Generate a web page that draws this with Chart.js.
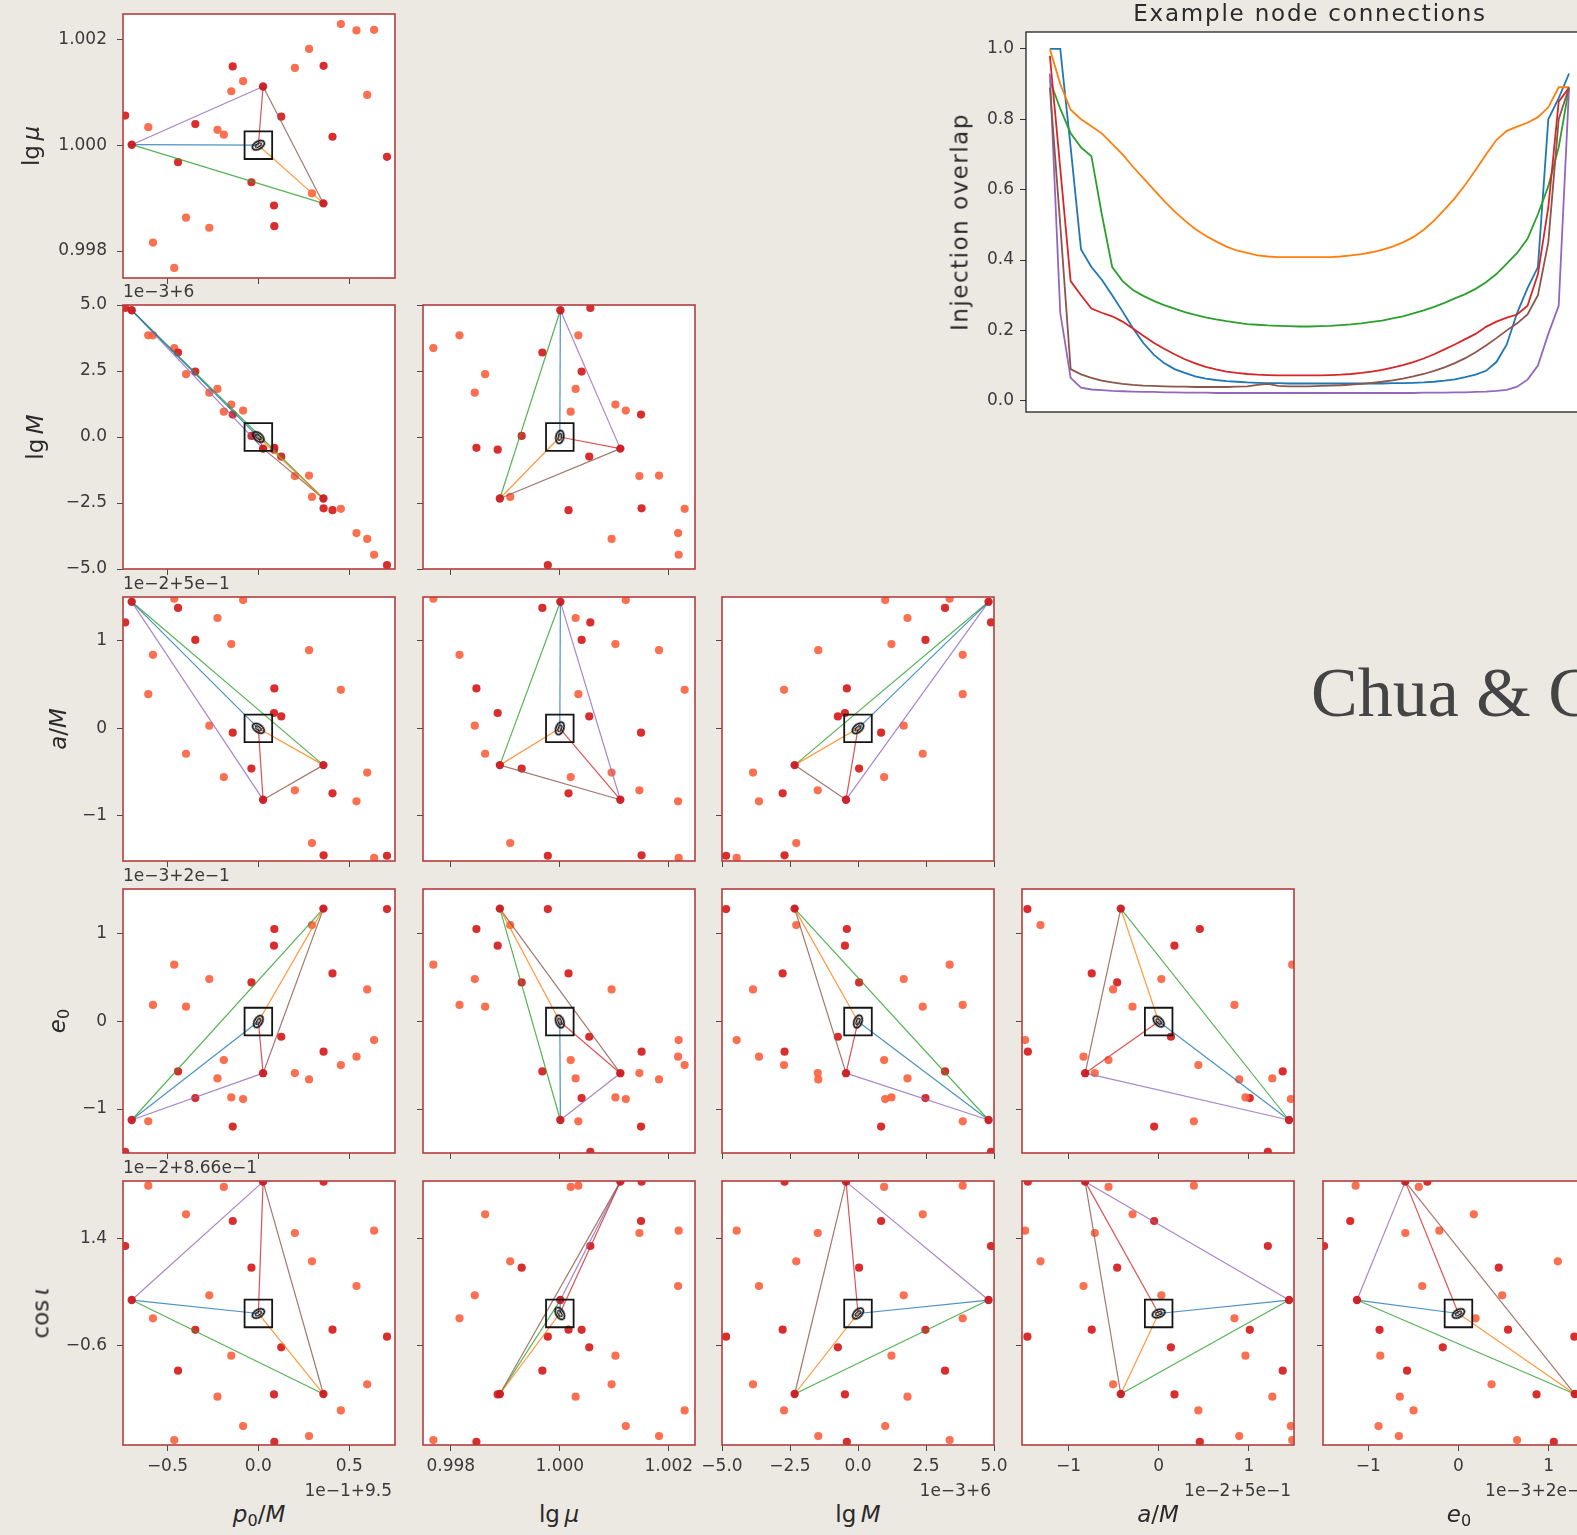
<!DOCTYPE html>
<html>
<head>
<meta charset="utf-8">
<title>Corner plot and example node connections</title>
<script src="https://cdn.jsdelivr.net/npm/chart.js@4.4.1/dist/chart.umd.min.js"></script>
<style>
  html, body { margin: 0; padding: 0; }
  body {
    width: 1577px; height: 1535px; overflow: hidden; position: relative;
    background: #ece9e3;
    font-family: "DejaVu Sans", sans-serif; color: #333;
  }
  canvas { position: absolute; }
  .txt { position: absolute; white-space: nowrap; line-height: 1; }
  .tick { font-size: 17px; color: #3a3a3a; }
  .ax { font-size: 23px; color: #2a2a2a; }
  .ax sub { font-size: 0.7em; font-style: normal; vertical-align: -0.3em; line-height: 0; }
  .big { font-size: 23px; color: #2a2a2a; }
  .slide { font-family: "Liberation Serif", "DejaVu Serif", serif; font-size: 70px; color: #444; }
</style>
</head>
<body>
<script>
// ---- prior samples (27), one value per parameter, in axis (offset) units ----
var sampleP0 = [-0.733, -0.606, -0.580, -0.463, -0.442, -0.398, -0.347, -0.270, -0.225, -0.190, -0.149, -0.141, -0.084, -0.038, 0.086, 0.088, 0.126, 0.201, 0.279, 0.295, 0.359, 0.408, 0.454, 0.540, 0.599, 0.637, 0.708];
var sampleLgMu = [1.00056, 1.00034, 0.99816, 0.99768, 0.99968, 0.99863, 1.00040, 0.99844, 1.00029, 1.00020, 1.00102, 1.00149, 1.00121, 0.99930, 0.99886, 0.99847, 1.00054, 1.00146, 1.00182, 0.99909, 1.00150, 1.00016, 1.00229, 1.00217, 1.00095, 1.00218, 0.99978];
var sampleLgM = [4.89, 3.85, 3.85, 3.37, 3.20, 2.38, 2.48, 1.68, 1.82, 0.96, 1.23, 0.85, 1.00, 0.04, -0.48, -0.41, -0.74, -1.48, -1.46, -2.27, -2.70, -2.77, -2.72, -3.64, -3.86, -4.46, -4.85];
var sampleA = [1.21, 0.39, 0.84, 1.48, 1.375, -0.29, 1.01, 0.03, 1.26, -0.556, 0.962, -0.05, 1.465, -0.46, 0.175, 0.456, 0.136, -0.708, 0.893, -1.31, -1.45, -0.742, 0.44, -0.833, -0.505, -1.48, -1.455];
var sampleE0 = [-1.49, -1.14, 0.19, 0.65, -0.57, 0.17, -0.875, 0.485, -0.65, -0.44, -0.867, -1.20, -0.886, 0.447, 0.866, 1.057, -0.174, -0.589, -0.661, 1.102, -0.345, 0.55, -0.498, -0.402, 0.367, -0.212, 1.285];
var sampleCosI = [1.257, 2.381, -0.091, -2.358, -1.066, 1.847, -0.305, 0.338, -1.55, 2.357, -0.786, 1.723, -2.097, 0.853, -1.507, -2.389, -0.631, 1.499, -2.283, 0.971, 2.456, -0.302, -1.805, 0.512, -1.32, 1.543, -0.432];
var sampleShade = [1, 0, 0, 0, 1, 0, 1, 0, 0, 0, 0, 1, 0, 1, 1, 1, 1, 0, 0, 0, 1, 1, 0, 0, 0, 0, 1];

// ---- template nodes: A, B (centre), C, D ----
var nodeP0 = [-0.697, 0, 0.026, 0.358];
var nodeLgMu = [1.00001, 1.0, 1.00111, 0.99890];
var nodeLgM = [4.80, 0, -0.44, -2.33];
var nodeA = [1.445, 0, -0.815, -0.42];
var nodeE0 = [-1.125, 0, -0.59, 1.29];
var nodeCosI = [0.25, 0, 2.456, -1.50];

// node connections (A-B, B-D, A-D, B-C, A-C, C-D)
var edgeFrom = [0, 1, 0, 1, 0, 2];
var edgeTo = [1, 3, 3, 2, 2, 3];
var edgeColors = ['rgba(31,119,180,.8)', 'rgba(255,127,14,.8)', 'rgba(44,160,44,.8)', 'rgba(214,39,40,.8)', 'rgba(148,103,189,.8)', 'rgba(140,86,75,.8)'];

// ---- axis ticks ----
var p0Ticks = [-0.5, 0, 0.5], p0TickLabels = ['\u22120.5', '0.0', '0.5'];
var lgMuTicks = [0.998, 1.0, 1.002], lgMuTickLabels = ['0.998', '1.000', '1.002'];
var lgMTicks = [-5, -2.5, 0, 2.5, 5], lgMTickLabels = ['\u22125.0', '\u22122.5', '0.0', '2.5', '5.0'];
var aTicks = [-1, 0, 1], aTickLabels = ['\u22121', '0', '1'];
var e0Ticks = [-1, 0, 1], e0TickLabels = ['\u22121', '0', '1'];
var cosITicks = [-0.6, 1.4], cosITickLabels = ['\u22120.6', '1.4'];

// ---- example node connections (overlap along the connection) ----
var connIndex = [0, 1, 2, 3, 4, 5, 6, 7, 8, 9, 10, 11, 12, 13, 14, 15, 16, 17, 18, 19, 20, 21, 22, 23, 24, 25, 26, 27, 28, 29, 30, 31, 32, 33, 34, 35, 36, 37, 38, 39, 40, 41, 42, 43, 44, 45, 46, 47, 48, 49, 50];
var overlapBlue = [1.0, 1.0, 0.72, 0.43, 0.38, 0.344, 0.30, 0.254, 0.206, 0.164, 0.131, 0.107, 0.09, 0.079, 0.069, 0.063, 0.059, 0.056, 0.054, 0.052, 0.051, 0.05, 0.05, 0.049, 0.049, 0.049, 0.049, 0.049, 0.049, 0.049, 0.049, 0.049, 0.049, 0.05, 0.05, 0.051, 0.052, 0.054, 0.057, 0.061, 0.067, 0.074, 0.085, 0.11, 0.16, 0.25, 0.32, 0.38, 0.80, 0.86, 0.93];
var overlapOrange = [1.0, 0.90, 0.827, 0.80, 0.78, 0.76, 0.73, 0.70, 0.665, 0.633, 0.60, 0.568, 0.538, 0.512, 0.488, 0.469, 0.453, 0.438, 0.427, 0.42, 0.413, 0.41, 0.408, 0.408, 0.408, 0.408, 0.408, 0.408, 0.41, 0.413, 0.417, 0.422, 0.429, 0.438, 0.45, 0.465, 0.486, 0.512, 0.543, 0.576, 0.614, 0.656, 0.70, 0.741, 0.767, 0.779, 0.79, 0.806, 0.834, 0.891, 0.891];
var overlapGreen = [0.91, 0.83, 0.76, 0.72, 0.695, 0.53, 0.38, 0.34, 0.315, 0.298, 0.284, 0.272, 0.262, 0.252, 0.244, 0.237, 0.231, 0.226, 0.222, 0.218, 0.216, 0.214, 0.213, 0.212, 0.211, 0.211, 0.212, 0.213, 0.215, 0.217, 0.22, 0.224, 0.228, 0.234, 0.24, 0.248, 0.257, 0.267, 0.278, 0.291, 0.303, 0.318, 0.337, 0.36, 0.39, 0.42, 0.46, 0.53, 0.61, 0.72, 0.89];
var overlapRed = [0.98, 0.66, 0.34, 0.30, 0.262, 0.25, 0.24, 0.225, 0.205, 0.185, 0.165, 0.148, 0.132, 0.118, 0.106, 0.096, 0.089, 0.083, 0.079, 0.076, 0.074, 0.073, 0.072, 0.072, 0.072, 0.072, 0.072, 0.073, 0.074, 0.076, 0.079, 0.083, 0.088, 0.094, 0.101, 0.11, 0.12, 0.132, 0.146, 0.16, 0.175, 0.19, 0.21, 0.225, 0.236, 0.245, 0.27, 0.36, 0.55, 0.85, 0.89];
var overlapPurple = [0.93, 0.25, 0.065, 0.037, 0.032, 0.03, 0.028, 0.027, 0.026, 0.025, 0.025, 0.024, 0.024, 0.023, 0.023, 0.023, 0.022, 0.022, 0.022, 0.022, 0.022, 0.022, 0.022, 0.022, 0.022, 0.022, 0.022, 0.022, 0.022, 0.022, 0.022, 0.022, 0.022, 0.022, 0.022, 0.022, 0.023, 0.023, 0.023, 0.024, 0.024, 0.025, 0.026, 0.028, 0.031, 0.04, 0.06, 0.10, 0.19, 0.27, 0.89];
var overlapBrown = [0.89, 0.50, 0.09, 0.075, 0.065, 0.057, 0.052, 0.048, 0.045, 0.043, 0.042, 0.041, 0.04, 0.04, 0.039, 0.039, 0.039, 0.039, 0.04, 0.041, 0.045, 0.048, 0.042, 0.041, 0.041, 0.041, 0.042, 0.043, 0.044, 0.046, 0.048, 0.051, 0.054, 0.058, 0.063, 0.069, 0.076, 0.085, 0.095, 0.107, 0.121, 0.138, 0.157, 0.178, 0.20, 0.22, 0.245, 0.30, 0.45, 0.80, 0.89];
var overlapTicks = [0, 0.2, 0.4, 0.6, 0.8, 1.0];

// parameters in corner order
var params = [
  { samples: sampleP0, nodes: nodeP0, min: -0.745, max: 0.752, ticks: p0Ticks, labels: p0TickLabels,
    offset: '1e\u22121+9.5', title: '<i>p</i><sub>0</sub>/<i>M</i>' },
  { samples: sampleLgMu, nodes: nodeLgMu, min: 0.99749, max: 1.00248, ticks: lgMuTicks, labels: lgMuTickLabels,
    offset: '', title: 'lg&thinsp;<i>\u03bc</i>' },
  { samples: sampleLgM, nodes: nodeLgM, min: -5, max: 5, ticks: lgMTicks, labels: lgMTickLabels,
    offset: '1e\u22123+6', title: 'lg&thinsp;<i>M</i>' },
  { samples: sampleA, nodes: nodeA, min: -1.515, max: 1.5, ticks: aTicks, labels: aTickLabels,
    offset: '1e\u22122+5e\u22121', title: '<i>a</i>/<i>M</i>' },
  { samples: sampleE0, nodes: nodeE0, min: -1.502, max: 1.514, ticks: e0Ticks, labels: e0TickLabels,
    offset: '1e\u22123+2e\u22121', title: '<i>e</i><sub>0</sub>' },
  { samples: sampleCosI, nodes: nodeCosI, min: -2.45, max: 2.468, ticks: cosITicks, labels: cosITickLabels,
    offset: '1e\u22122+8.66e\u22121', title: 'cos&thinsp;<i>\u03b9</i>' }
];

// layout of the corner grid
var colLeft = [123, 423, 722, 1022, 1323];
var rowTop = [14, 305, 597, 889, 1181];
var PW = 272, PH = 264;
var ML = 80, MR = 24, MT = 28, MB = 44;
var yTitleX = [31, 35, 58, 57, 41];

var DOT_DARK = 'rgba(214,28,28,0.92)';
var DOT_LIGHT = 'rgba(249,96,62,0.9)';
var NODE_RED = 'rgba(200,26,32,0.95)';

// tilt of the small posterior ellipse in each panel
var ellipseTilt = { '0,0': -30, '1,0': 40, '1,1': -80, '2,0': 35, '2,1': -70, '2,2': -40, '3,0': -60, '3,1': 70,
  '3,2': -70, '3,3': 45, '4,0': -30, '4,1': 60, '4,2': -45, '4,3': -20, '4,4': -30 };

Chart.defaults.font.family = '"DejaVu Sans", sans-serif';
Chart.defaults.color = '#3a3a3a';

var ellipseMark = (function() {
  var c = document.createElement('canvas');
  c.width = 20; c.height = 20;
  var g = c.getContext('2d');
  g.strokeStyle = '#151515';
  g.lineWidth = 1.8;
  g.beginPath(); g.ellipse(10, 10, 6.6, 3.8, 0, 0, Math.PI * 2); g.stroke();
  g.lineWidth = 1.2;
  g.beginPath(); g.ellipse(10, 10, 3.4, 1.7, 0, 0, Math.PI * 2); g.stroke();
  return c;
})();

// white plot area + coloured frame
var panelFrame = {
  id: 'panelFrame',
  beforeDraw: function(chart) {
    var a = chart.chartArea, ctx = chart.ctx;
    ctx.save();
    ctx.fillStyle = '#ffffff';
    ctx.fillRect(a.left, a.top, a.right - a.left, a.bottom - a.top);
    ctx.restore();
  },
  afterDatasetsDraw: function(chart, args, opts) {
    var a = chart.chartArea, ctx = chart.ctx;
    ctx.save();
    ctx.strokeStyle = opts.color;
    ctx.lineWidth = opts.width;
    ctx.strokeRect(a.left, a.top, a.right - a.left, a.bottom - a.top);
    ctx.restore();
  }
};

function place(html, cls, x, y, how, spacing) {
  var d = document.createElement('div');
  d.className = 'txt ' + cls;
  d.innerHTML = html;
  d.style.left = x + 'px';
  d.style.top = y + 'px';
  d.style.transform = how;
  if (spacing) d.style.letterSpacing = spacing;
  document.body.appendChild(d);
  return d;
}

function axisOpts(p, showLabels, horizontal) {
  return {
    type: 'linear',
    min: p.min,
    max: p.max,
    grid: { display: true, drawOnChartArea: false, drawTicks: true, tickLength: 6, color: '#4a4a4a', lineWidth: 1 },
    border: { display: false },
    afterBuildTicks: function(ax) {
      ax.ticks = p.ticks.map(function(v) { return { value: v }; });
    },
    afterFit: function(ax) {
      if (horizontal) ax.height = MB; else ax.width = ML;
    },
    ticks: {
      display: showLabels,
      autoSkip: false,
      maxRotation: 0,
      minRotation: 0,
      padding: horizontal ? 5 : 10,
      font: { size: 17 },
      color: '#3a3a3a',
      callback: function(v, i) { return p.labels[i]; }
    }
  };
}

function buildPanel(r, c) {
  var px = params[c], py = params[r + 1];
  var cv = document.createElement('canvas');
  cv.width = PW + ML + MR;
  cv.height = PH + MT + MB;
  cv.style.left = (colLeft[c] - ML) + 'px';
  cv.style.top = (rowTop[r] - MT) + 'px';
  document.body.appendChild(cv);

  var node = function(k) { return { x: px.nodes[k], y: py.nodes[k] }; };
  var pts = px.samples.map(function(v, i) { return { x: v, y: py.samples[i] }; });
  var shades = sampleShade.map(function(s) { return s ? DOT_DARK : DOT_LIGHT; });

  var datasets = [];
  // box around the centre node
  datasets.push({ data: [node(1)], pointStyle: 'rect', pointRadius: 19.5, borderColor: '#161616',
    borderWidth: 1.8, backgroundColor: 'rgba(0,0,0,0)', order: 0, clip: 0 });
  datasets.push({ data: [node(1)], pointStyle: ellipseMark, pointRotation: ellipseTilt[r + ',' + c] || -30,
    pointRadius: 8, order: 0, clip: 0 });
  datasets.push({ data: [node(0), node(2), node(3)], pointRadius: 4.2, backgroundColor: NODE_RED,
    borderWidth: 0, order: 1, clip: 0 });
  edgeFrom.forEach(function(a, i) {
    datasets.push({ data: [node(a), node(edgeTo[i])], showLine: true, pointRadius: 0,
      borderColor: edgeColors[i], borderWidth: 1.2, order: 2, clip: 0 });
  });
  datasets.push({ data: pts, pointRadius: 4.1, backgroundColor: shades, borderWidth: 0, order: 3, clip: 0 });

  new Chart(cv, {
    type: 'scatter',
    data: { datasets: datasets },
    options: {
      responsive: false,
      animation: false,
      events: [],
      layout: { padding: { left: 0, right: MR, top: MT, bottom: 0 } },
      scales: {
        x: axisOpts(px, r === 4, true),
        y: axisOpts(py, c === 0, false)
      },
      plugins: {
        legend: { display: false },
        tooltip: { enabled: false },
        panelFrame: { color: '#b53d3d', width: 1.6 }
      }
    },
    plugins: [panelFrame]
  });
}

for (var r = 0; r < 5; r++) {
  for (var c = 0; c <= r; c++) buildPanel(r, c);
}

// axis titles and offset texts
for (var k = 0; k < 5; k++) {
  var py = params[k + 1];
  place(py.title, 'ax', yTitleX[k], rowTop[k] + PH / 2, 'translate(-50%,-50%) rotate(-90deg)');
  if (py.offset) place(py.offset, 'tick', colLeft[0], rowTop[k] - 14, 'translate(0,-50%)');
  var px = params[k];
  place(px.title, 'ax', colLeft[k] + PW / 2, 1514, 'translate(-50%,-50%)');
  if (px.offset) place(px.offset, 'tick', colLeft[k] + PW - 3, 1490, 'translate(-100%,-50%)');
}

// ---- example node connections ----
var lineColors = ['#1f77b4', '#ff7f0e', '#2ca02c', '#d62728', '#9467bd', '#8c564b'];
var overlapSeries = [overlapBlue, overlapOrange, overlapGreen, overlapRed, overlapPurple, overlapBrown];

var lc = document.createElement('canvas');
lc.width = 674;
lc.height = 420;
lc.style.left = '930px';
lc.style.top = '12px';
document.body.appendChild(lc);

new Chart(lc, {
  type: 'line',
  data: {
    datasets: overlapSeries.map(function(s, k) {
      return {
        data: s.map(function(v, i) { return { x: connIndex[i], y: v }; }),
        borderColor: lineColors[k],
        borderWidth: 1.8,
        pointRadius: 0,
        tension: 0,
        fill: false,
        order: 6 - k
      };
    })
  },
  options: {
    responsive: false,
    animation: false,
    events: [],
    layout: { padding: { left: 0, right: 10, top: 20, bottom: 20 } },
    scales: {
      x: { type: 'linear', min: -2.3, max: 52.4, display: false },
      y: {
        min: -0.032,
        max: 1.048,
        grid: { drawOnChartArea: false, drawTicks: true, tickLength: 6, color: '#333' },
        border: { display: false },
        afterBuildTicks: function(ax) {
          ax.ticks = overlapTicks.map(function(v) { return { value: v }; });
        },
        afterFit: function(ax) { ax.width = 96; },
        ticks: { padding: 6, font: { size: 17 }, color: '#3a3a3a',
          callback: function(v) { return v.toFixed(1); } }
      }
    },
    plugins: {
      legend: { display: false },
      tooltip: { enabled: false },
      panelFrame: { color: '#222', width: 1.3 }
    }
  },
  plugins: [panelFrame]
});

place('Example node connections', 'big', 1310, 13, 'translate(-50%,-50%)', '1.8px');
place('Injection overlap', 'big', 960, 222, 'translate(-50%,-50%) rotate(-90deg)', '1.5px');

// slide text behind the plots
place('Chua &amp; C', 'slide', 1311, 658, 'none');
</script>
</body>
</html>
